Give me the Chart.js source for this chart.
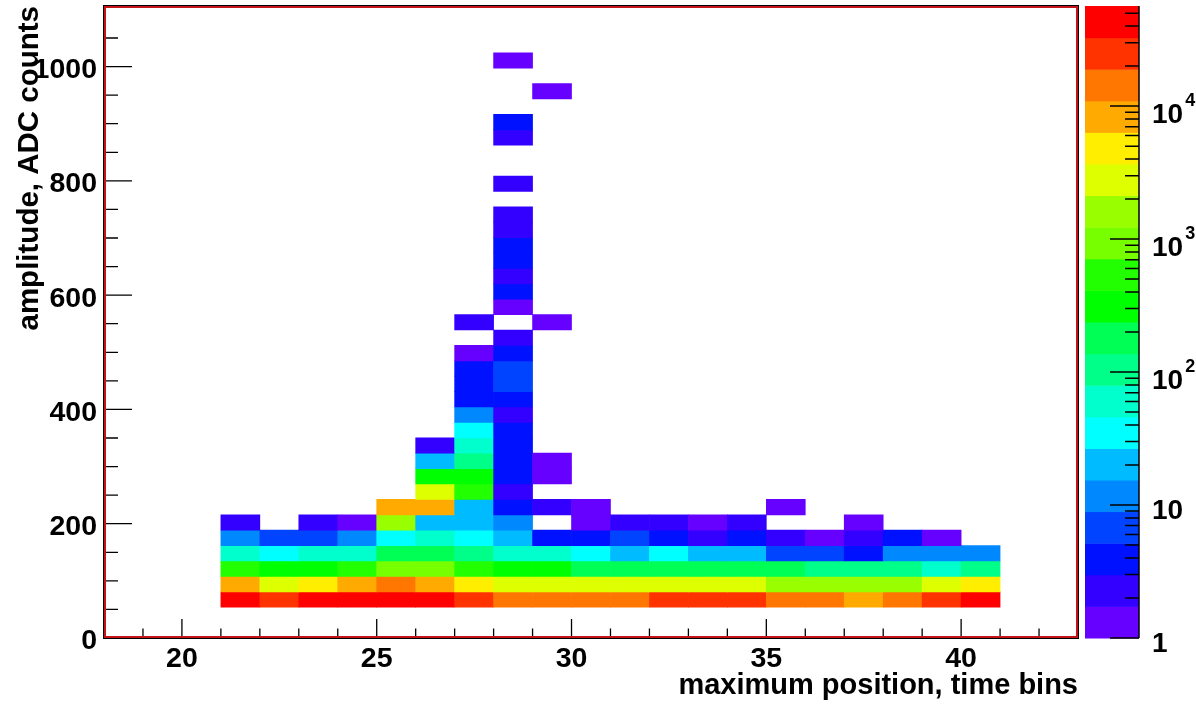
<!DOCTYPE html>
<html>
<head>
<meta charset="utf-8">
<title>amplitude vs maximum position</title>
<script src="https://cdn.jsdelivr.net/npm/chart.js@4.4.1/dist/chart.umd.min.js"></script>
<style>
  html, body { margin: 0; padding: 0; background: #fff; }
  canvas { display: block; }
</style>
</head>
<body>
<canvas id="hist" width="1196" height="704"></canvas>
<script>
// lower edge of each time-bin column
const xBins = [21, 22, 23, 24, 25, 26, 27, 28, 29, 30, 31, 32, 33, 34, 35, 36, 37, 38, 39, 40];
// amplitude bin width (ADC counts); the first row below is amplitude bin #2
const yBinWidth = 26.95;
const firstRow = 2;
// entries per cell, bottom row first, one column per time bin
const counts = [
  [43000, 25000, 44000, 46000, 45000, 42000, 27000, 15000, 14000, 14000, 13000, 21000, 22000, 20000, 13500, 12500, 9000, 12000, 21000, 36000],
  [8300, 2900, 4500, 7800, 12000, 8000, 4300, 3000, 2600, 2700, 2500, 2400, 2500, 2300, 1700, 1500, 1600, 1450, 2300, 4000],
  [520, 330, 300, 560, 900, 850, 480, 320, 290, 200, 190, 210, 180, 175, 160, 110, 115, 105, 70, 100],
  [60, 38, 58, 55, 170, 160, 95, 62, 56, 36, 22, 34, 20, 19, 7, 6, 4, 11, 12, 10],
  [11, 6, 7, 12, 32, 50, 36, 18, 4, 5, 6, 4, 2, 4, 2, 1, 2, 4, 1, 0],
  [2, 0, 2, 1, 1500, 20, 18, 11, 0, 1, 2, 2, 1, 2, 0, 0, 1, 0, 0, 0],
  [0, 0, 0, 0, 8000, 7500, 18, 4, 2, 1, 0, 0, 0, 0, 1, 0, 0, 0, 0, 0],
  [0, 0, 0, 0, 0, 2800, 520, 2, 0, 0, 0, 0, 0, 0, 0, 0, 0, 0, 0, 0],
  [0, 0, 0, 0, 0, 300, 280, 4, 1, 0, 0, 0, 0, 0, 0, 0, 0, 0, 0, 0],
  [0, 0, 0, 0, 0, 19, 100, 5, 1, 0, 0, 0, 0, 0, 0, 0, 0, 0, 0, 0],
  [0, 0, 0, 0, 0, 2, 55, 4, 0, 0, 0, 0, 0, 0, 0, 0, 0, 0, 0, 0],
  [0, 0, 0, 0, 0, 0, 32, 5, 0, 0, 0, 0, 0, 0, 0, 0, 0, 0, 0, 0],
  [0, 0, 0, 0, 0, 0, 10, 2, 0, 0, 0, 0, 0, 0, 0, 0, 0, 0, 0, 0],
  [0, 0, 0, 0, 0, 0, 4, 4, 0, 0, 0, 0, 0, 0, 0, 0, 0, 0, 0, 0],
  [0, 0, 0, 0, 0, 0, 5, 6, 0, 0, 0, 0, 0, 0, 0, 0, 0, 0, 0, 0],
  [0, 0, 0, 0, 0, 0, 4, 7, 0, 0, 0, 0, 0, 0, 0, 0, 0, 0, 0, 0],
  [0, 0, 0, 0, 0, 0, 1, 4, 0, 0, 0, 0, 0, 0, 0, 0, 0, 0, 0, 0],
  [0, 0, 0, 0, 0, 0, 0, 2, 0, 0, 0, 0, 0, 0, 0, 0, 0, 0, 0, 0],
  [0, 0, 0, 0, 0, 0, 2, 0, 1, 0, 0, 0, 0, 0, 0, 0, 0, 0, 0, 0],
  [0, 0, 0, 0, 0, 0, 0, 1, 0, 0, 0, 0, 0, 0, 0, 0, 0, 0, 0, 0],
  [0, 0, 0, 0, 0, 0, 0, 4, 0, 0, 0, 0, 0, 0, 0, 0, 0, 0, 0, 0],
  [0, 0, 0, 0, 0, 0, 0, 2, 0, 0, 0, 0, 0, 0, 0, 0, 0, 0, 0, 0],
  [0, 0, 0, 0, 0, 0, 0, 4, 0, 0, 0, 0, 0, 0, 0, 0, 0, 0, 0, 0],
  [0, 0, 0, 0, 0, 0, 0, 5, 0, 0, 0, 0, 0, 0, 0, 0, 0, 0, 0, 0],
  [0, 0, 0, 0, 0, 0, 0, 2, 0, 0, 0, 0, 0, 0, 0, 0, 0, 0, 0, 0],
  [0, 0, 0, 0, 0, 0, 0, 2, 0, 0, 0, 0, 0, 0, 0, 0, 0, 0, 0, 0],
  [0, 0, 0, 0, 0, 0, 0, 0, 0, 0, 0, 0, 0, 0, 0, 0, 0, 0, 0, 0],
  [0, 0, 0, 0, 0, 0, 0, 2, 0, 0, 0, 0, 0, 0, 0, 0, 0, 0, 0, 0],
  [0, 0, 0, 0, 0, 0, 0, 0, 0, 0, 0, 0, 0, 0, 0, 0, 0, 0, 0, 0],
  [0, 0, 0, 0, 0, 0, 0, 0, 0, 0, 0, 0, 0, 0, 0, 0, 0, 0, 0, 0],
  [0, 0, 0, 0, 0, 0, 0, 2, 0, 0, 0, 0, 0, 0, 0, 0, 0, 0, 0, 0],
  [0, 0, 0, 0, 0, 0, 0, 4, 0, 0, 0, 0, 0, 0, 0, 0, 0, 0, 0, 0],
  [0, 0, 0, 0, 0, 0, 0, 0, 0, 0, 0, 0, 0, 0, 0, 0, 0, 0, 0, 0],
  [0, 0, 0, 0, 0, 0, 0, 0, 1, 0, 0, 0, 0, 0, 0, 0, 0, 0, 0, 0],
  [0, 0, 0, 0, 0, 0, 0, 0, 0, 0, 0, 0, 0, 0, 0, 0, 0, 0, 0, 0],
  [0, 0, 0, 0, 0, 0, 0, 1, 0, 0, 0, 0, 0, 0, 0, 0, 0, 0, 0, 0]
];
// colour scale: log z from 1 to zMax split into 20 contours
const zMin = 1;
const zMax = 56600;
const palette = [
  '#6600ff', '#3300ff', '#0011ff', '#0044ff', '#0088ff', '#00bbff', '#00ffff', '#00ffcc', '#00ff88', '#00ff55',
  '#00ff00', '#22ff00', '#77ff00', '#99ff00', '#ddff00', '#ffee00', '#ffaa00', '#ff7700', '#ff3300', '#ff0000'
];
const zLabels = [[1, '1', ''], [10, '10', ''], [100, '10', '2'], [1000, '10', '3'], [10000, '10', '4']];

const FONT = '"Liberation Sans", Arial, Helvetica, sans-serif';

function band(n) {
  const k = Math.floor(Math.log10(n) / Math.log10(zMax) * palette.length);
  return Math.max(0, Math.min(palette.length - 1, k));
}

const cells = [];
counts.forEach((row, r) => {
  const lo = (firstRow + r) * yBinWidth;
  row.forEach((n, c) => {
    if (n > 0) cells.push({ x: xBins[c] + 0.5, y: [lo, lo + yBinWidth], n: n });
  });
});

// ticks inside the frame, the red frame, and the colour bar with its log axis
const framePlugin = {
  id: 'framePlugin',
  afterDraw(chart) {
    const { ctx, chartArea: a, scales: { x, y, z } } = chart;
    ctx.save();

    ctx.strokeStyle = '#000';
    ctx.lineWidth = 1.3;
    ctx.beginPath();
    x.ticks.forEach(t => {
      if (t.value <= x.min || t.value >= x.max) return;
      const px = x.getPixelForValue(t.value);
      const len = t.value % 5 === 0 ? 19 : 9.5;
      ctx.moveTo(px, a.bottom);
      ctx.lineTo(px, a.bottom - len);
    });
    y.ticks.forEach(t => {
      if (t.value % 50 !== 0 || t.value <= y.min) return;
      const py = y.getPixelForValue(t.value);
      const len = t.value % 200 === 0 ? 28 : 14;
      ctx.moveTo(a.left, py);
      ctx.lineTo(a.left + len, py);
    });
    ctx.stroke();

    ctx.lineWidth = 1;
    ctx.strokeStyle = '#000';
    ctx.strokeRect(a.left - 0.5, a.top - 0.5, a.right - a.left + 1, a.bottom - a.top + 1);
    ctx.lineWidth = 2;
    ctx.strokeStyle = '#c41418';
    ctx.strokeRect(a.left + 1, a.top + 1, a.right - a.left - 2, a.bottom - a.top - 2);

    // colour bar
    const barL = a.right + 7;
    const barR = a.right + 61;
    const step = Math.log10(zMax) / palette.length;
    palette.forEach((col, k) => {
      const y0 = z.getPixelForValue(Math.pow(10, k * step));
      const y1 = z.getPixelForValue(Math.pow(10, (k + 1) * step));
      ctx.fillStyle = col;
      ctx.fillRect(barL, y1, barR - barL, y0 - y1 + 0.5);
    });

    ctx.strokeStyle = '#000';
    ctx.lineWidth = 1.5;
    ctx.beginPath();
    ctx.moveTo(barR, z.top);
    ctx.lineTo(barR, z.bottom);
    for (let d = 1; d <= zMax; d *= 10) {
      for (let m = 1; m <= 9; m++) {
        const v = m * d;
        if (v > zMax) break;
        const py = z.getPixelForValue(v);
        ctx.moveTo(barR, py);
        ctx.lineTo(barR - (m === 1 ? 29 : 14), py);
      }
    }
    ctx.stroke();

    ctx.fillStyle = '#000';
    ctx.textAlign = 'left';
    ctx.textBaseline = 'alphabetic';
    zLabels.forEach(([v, base, exp]) => {
      const py = z.getPixelForValue(v);
      const lx = a.right + 74;
      ctx.font = 'bold 28px ' + FONT;
      ctx.fillText(base, lx, py + (exp ? 16.5 : 14));
      if (exp) {
        const w = ctx.measureText(base).width;
        ctx.font = 'bold 18px ' + FONT;
        ctx.fillText(exp, lx + w + 2, py - 0.5);
      }
    });

    ctx.restore();
  }
};

Chart.defaults.font.family = FONT;
Chart.defaults.font.size = 28.5;
Chart.defaults.font.weight = 'bold';
Chart.defaults.color = '#000';

new Chart(document.getElementById('hist'), {
  type: 'bar',
  data: {
    datasets: [{
      data: cells,
      backgroundColor: ctx => palette[band(ctx.raw.n)],
      borderWidth: 0,
      barPercentage: 1,
      categoryPercentage: 1,
      grouped: false
    }]
  },
  options: {
    responsive: false,
    animation: false,
    events: [],
    layout: { padding: { left: 0, right: 118, top: 6, bottom: 0 } },
    plugins: { legend: { display: false }, tooltip: { enabled: false } },
    scales: {
      x: {
        type: 'linear',
        min: 18,
        max: 43,
        offset: false,
        grid: { display: false, drawTicks: false },
        border: { display: false },
        ticks: {
          stepSize: 1,
          autoSkip: false,
          maxRotation: 0,
          padding: 4,
          callback: v => (v % 5 === 0 ? v : '')
        },
        title: {
          display: true,
          text: 'maximum position, time bins',
          align: 'end',
          font: { size: 29 },
          padding: { top: 0, bottom: 1 }
        },
        afterFit: s => { s.height = 66; s.paddingLeft = 0; s.paddingRight = 0; }
      },
      y: {
        type: 'linear',
        min: 0,
        max: 1106,
        grid: { display: false, drawTicks: false },
        border: { display: false },
        ticks: {
          stepSize: 50,
          autoSkip: false,
          padding: 7,
          labelOffset: 3.5,
          callback: v => (v % 200 === 0 ? v : '')
        },
        title: {
          display: true,
          text: 'amplitude, ADC counts',
          align: 'end',
          font: { size: 29.5 },
          padding: { top: 12.3, bottom: 0 }
        },
        afterFit: s => { s.width = 104; s.paddingTop = 0; s.paddingBottom = 0; }
      },
      z: {
        type: 'logarithmic',
        position: 'right',
        display: false,
        min: zMin,
        max: zMax
      }
    }
  },
  plugins: [framePlugin]
});
</script>
</body>
</html>
